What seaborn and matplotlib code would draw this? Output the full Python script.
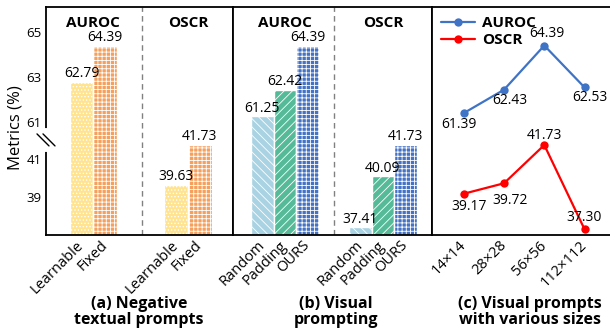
import numpy as np
import pandas as pd
import seaborn as sns
import matplotlib.pyplot as plt
import matplotlib.transforms as mtransforms

# (a) negative textual prompts
metrics = ["AUROC", "OSCR"]
neg_methods = ["Learnable", "Fixed"]
neg_auroc = [62.79, 64.39]
neg_oscr = [39.63, 41.73]

# (b) visual prompting
vp_methods = ["Random", "Padding", "OURS"]
vp_auroc = [61.25, 62.42, 64.39]
vp_oscr = [37.41, 40.09, 41.73]

# (c) visual prompts with various sizes
sizes = ["14×14", "28×28", "56×56", "112×112"]
size_auroc = [61.39, 62.43, 64.39, 62.53]
size_oscr = [39.17, 39.72, 41.73, 37.30]

yticks = [39, 41, 61, 63, 65]

sns.set_theme(style="white")
plt.rcParams["font.family"] = ["Open Sans", "DejaVu Sans"]
plt.rcParams["text.color"] = "black"
plt.rcParams["axes.labelcolor"] = "black"
plt.rcParams["xtick.color"] = "black"
plt.rcParams["ytick.color"] = "black"
plt.rcParams["hatch.color"] = "white"
plt.rcParams["hatch.linewidth"] = 0.6

# broken y axis: 37..42.1 and 60.33..66 glued together
LOW_TOP, HIGH_BOT = 42.1, 60.33
xp = [0, LOW_TOP, HIGH_BOT, 100]
fp = [0, LOW_TOP * 19, LOW_TOP * 19 + 1, LOW_TOP * 19 + 1 + (100 - HIGH_BOT) * 22.5]


def fwd(v):
    return np.interp(v, xp, fp)


def inv(y):
    return np.interp(y, fp, xp)


W, H = 610, 332
fig = plt.figure(figsize=(W / 100, H / 100), dpi=100)


def px_axes(x0, x1, y0=7, y1=235):
    return fig.add_axes([x0 / W, 1 - y1 / H, (x1 - x0) / W, (y1 - y0) / H])


ax_a = px_axes(46, 233)
ax_b = px_axes(233, 432)
ax_c = px_axes(432, 624)


def style_axis(ax, left_labels=False):
    ax.set_yscale("function", functions=(fwd, inv))
    ax.set_ylim(37.0, 66.1)
    ax.set_yticks(yticks)
    ax.yaxis.set_minor_locator(plt.NullLocator())
    ax.tick_params(axis="both", length=0)
    ax.tick_params(axis="y", labelsize=9.5, pad=3, labelleft=left_labels)
    for s in ax.spines.values():
        s.set_visible(True)
        s.set_color("black")
        s.set_linewidth(1.3)
    ax.set_xlabel("")
    ax.set_ylabel("")


def bar_panel(ax, methods, auroc, oscr, colors, hatches, width, xlim, divider):
    df = pd.DataFrame({
        "metric": np.repeat(metrics, len(methods)),
        "method": methods * 2,
        "value": auroc + oscr,
    })
    sns.barplot(data=df, x="metric", y="value", hue="method", hue_order=methods,
                palette=colors, saturation=1, width=width, errorbar=None,
                edgecolor="white", linewidth=1, legend=False, ax=ax)
    style_axis(ax, left_labels=(ax is ax_a))
    for cont, h in zip(ax.containers, hatches):
        for bar in cont:
            bar.set_hatch(h)
        ax.bar_label(cont, fmt="%.2f", padding=0.5, fontsize=10)
    centers = sorted(p.get_x() + p.get_width() / 2 for p in ax.patches)
    ax.set_xticks(centers)
    ax.set_xticklabels(methods * 2, rotation=45, ha="right", va="center",
                       rotation_mode="anchor", fontsize=10.5)
    ax.tick_params(axis="x", pad=6)
    ax.set_xlim(*xlim)
    ax.axvline(divider, color="#808080", ls=(0, (4, 3)), lw=1)
    trans = mtransforms.blended_transform_factory(ax.transData, ax.transAxes)
    for i, m in enumerate(metrics):
        ax.text(i, 0.93, m, transform=trans, ha="center", va="center",
                fontsize=11, fontweight="bold")


bar_panel(ax_a, neg_methods, neg_auroc, neg_oscr,
          ["#FFE38F", "#F6A05E"], [".....", "++++"], 0.5, (-0.5, 1.475), 0.51)
bar_panel(ax_b, vp_methods, vp_auroc, vp_oscr,
          ["#A9D3E3", "#55BA98", "#4472C4"], ["\\\\\\\\", "////", "++++"], 0.69, (-0.53, 1.5), 0.5)

# axis break marks on the left spine
yb = 0.417
ax_a.plot([0, 0], [yb - 0.045, yb + 0.045], transform=ax_a.transAxes, color="white",
          lw=3, clip_on=False, zorder=5)
for dx in (-3, 3):
    ax_a.plot([(dx - 6) / 187, (dx + 6) / 187], [yb + 6 / 228, yb - 6 / 228],
              transform=ax_a.transAxes, color="black", lw=1, clip_on=False, zorder=6)
ax_a.set_ylabel("Metrics (%)", fontsize=12)
ax_a.yaxis.set_label_coords(-0.12, 0.47)

# (c) line panel
df_c = pd.DataFrame({
    "size": sizes * 2,
    "metric": ["AUROC"] * len(sizes) + ["OSCR"] * len(sizes),
    "value": size_auroc + size_oscr,
})
sns.lineplot(data=df_c, x="size", y="value", hue="metric", sort=False,
             palette={"AUROC": "#3F73C6", "OSCR": "#FF0000"}, marker="o",
             markersize=6, markeredgewidth=0, linewidth=1.6, ax=ax_c)
style_axis(ax_c)
ax_c.set_xticks(range(len(sizes)))
ax_c.set_xticklabels(sizes, rotation=45, ha="right", va="center",
                     rotation_mode="anchor", fontsize=10.5)
ax_c.tick_params(axis="x", pad=6)
ax_c.set_xlim(-0.79, 3.98)

offs_auroc = [(-5, -11), (6, -11), (3, 12), (5, -10)]
offs_oscr = [(5, -13), (6, -17), (0, 10), (0, 12)]
for vals, offs in ((size_auroc, offs_auroc), (size_oscr, offs_oscr)):
    for i, (v, (dx, dy)) in enumerate(zip(vals, offs)):
        ax_c.annotate(f"{v:.2f}", (i, v), xytext=(dx * 0.72, dy * 0.72),
                      textcoords="offset points", ha="center", va="center",
                      fontsize=10)

handles, labels = ax_c.get_legend_handles_labels()
ax_c.legend(handles, labels, loc="upper left", frameon=False,
            prop={"weight": "bold", "size": 11}, handlelength=2.2,
            borderaxespad=0.2, labelspacing=0.2, handletextpad=0.5)

# panel captions
caps = [(139, "(a) Negative\ntextual prompts"), (336, "(b) Visual\nprompting"),
        (530, "(c) Visual prompts\nwith various sizes")]
for x, t in caps:
    fig.text(x / W, 1 - 296 / H, t, ha="center", va="top", fontsize=11.5,
             fontweight="bold", linespacing=1.0)

fig.savefig("out.png", dpi=100)
